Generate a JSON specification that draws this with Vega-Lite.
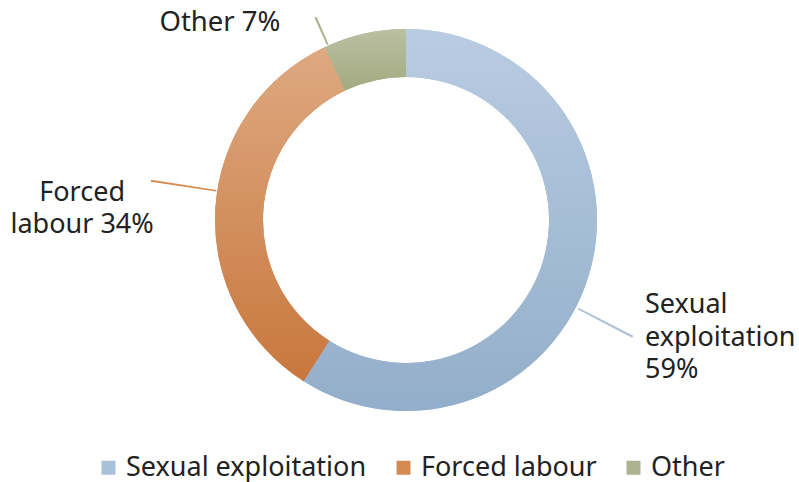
{
  "$schema": "https://vega.github.io/schema/vega-lite/v6.json",
  "width": 786,
  "height": 440,
  "autosize": {"type": "none"},
  "padding": {"left": 13, "right": 0, "top": 0, "bottom": 42},
  "background": "white",
  "config": {"view": {"stroke": null}, "font": "Noto Sans"},
  "data": {
    "values": [
      {"category": "Sexual exploitation", "value": 59, "label": "Sexual\nexploitation\n59%"},
      {"category": "Forced labour", "value": 34, "label": "Forced\nlabour 34%"},
      {"category": "Other", "value": 7, "label": "Other 7%"}
    ]
  },
  "transform": [
    {"stack": "value", "groupby": [], "sort": [{"field": "value", "order": "descending"}], "as": ["v0", "v1"]}
  ],
  "layer": [
    {
      "mark": {"type": "arc", "radius": 191, "radius2": 143},
      "encoding": {
        "theta": {"field": "v0", "type": "quantitative", "stack": null, "scale": {"domain": [0, 100]}},
        "theta2": {"field": "v1"},
        "color": {
          "field": "category",
          "type": "nominal",
          "scale": {"domain": ["Sexual exploitation", "Forced labour", "Other"], "range": ["#a9c0da", "#d58a52", "#adb38e"]},
          "legend": {
            "title": null,
            "orient": "none",
            "legendX": 82,
            "legendY": 454,
            "padding": 0,
            "direction": "horizontal",
            "symbolType": "square",
            "symbolSize": 196,
            "symbolStrokeWidth": 0,
            "labelFontSize": 27,
            "labelColor": "#222222",
            "labelFont": "Noto Sans",
            "labelLimit": 400,
            "columnPadding": 23,
            "labelOffset": 4
          }
        }
      }
    },
    {
      "transform": [{"filter": "datum.category === 'Sexual exploitation'"}],
      "mark": {"type": "arc", "radius": 191, "radius2": 143,
        "fill": {"gradient": "linear", "x1": 0, "y1": 0, "x2": 0, "y2": 1, "stops": [{"offset": 0, "color": "#b9cce2"}, {"offset": 1, "color": "#93aeca"}]}},
      "encoding": {
        "theta": {"field": "v0", "type": "quantitative", "stack": null},
        "theta2": {"field": "v1"}
      }
    },
    {
      "transform": [{"filter": "datum.category === 'Forced labour'"}],
      "mark": {"type": "arc", "radius": 191, "radius2": 143,
        "fill": {"gradient": "linear", "x1": 0, "y1": 0, "x2": 0, "y2": 1, "stops": [{"offset": 0, "color": "#dea981"}, {"offset": 1, "color": "#c8773d"}]}},
      "encoding": {
        "theta": {"field": "v0", "type": "quantitative", "stack": null},
        "theta2": {"field": "v1"}
      }
    },
    {
      "transform": [{"filter": "datum.category === 'Other'"}],
      "mark": {"type": "arc", "radius": 191, "radius2": 143,
        "fill": {"gradient": "linear", "x1": 0, "y1": 0, "x2": 0, "y2": 1, "stops": [{"offset": 0, "color": "#bbbfa3"}, {"offset": 1, "color": "#a3aa80"}]}},
      "encoding": {
        "theta": {"field": "v0", "type": "quantitative", "stack": null},
        "theta2": {"field": "v1"}
      }
    },
    {
      "transform": [{"filter": "datum.category === 'Sexual exploitation'"}],
      "mark": {"type": "arc", "radius": 255, "radius2": 194, "thetaOffset": 2.042, "theta2Offset": 2.051, "fill": "#a9c0da"},
      "encoding": {
        "theta": {"field": "v0", "type": "quantitative", "stack": null},
        "theta2": {"field": "v0"}
      }
    },
    {
      "transform": [{"filter": "datum.category === 'Forced labour'"}],
      "mark": {"type": "arc", "radius": 258, "radius2": 192, "thetaOffset": 1.154, "theta2Offset": 1.162, "fill": "#d58a52"},
      "encoding": {
        "theta": {"field": "v0", "type": "quantitative", "stack": null},
        "theta2": {"field": "v0"}
      }
    },
    {
      "transform": [{"filter": "datum.category === 'Other'"}],
      "mark": {"type": "arc", "radius": 222, "radius2": 192, "thetaOffset": 0.015, "theta2Offset": 0.025, "fill": "#adb38e"},
      "encoding": {
        "theta": {"field": "v0", "type": "quantitative", "stack": null},
        "theta2": {"field": "v0"}
      }
    },
    {
      "transform": [{"filter": "datum.category === 'Sexual exploitation'"}],
      "mark": {"type": "text", "radius": 253.7, "thetaOffset": 1.913, "align": "left", "baseline": "middle", "fontSize": 27, "lineHeight": 32.5, "lineBreak": "\n", "color": "#222222"},
      "encoding": {
        "theta": {"field": "v0", "type": "quantitative", "stack": null},
        "text": {"field": "label"}
      }
    },
    {
      "transform": [{"filter": "datum.category === 'Forced labour'"}],
      "mark": {"type": "text", "radius": 325, "thetaOffset": 1.0885, "align": "center", "baseline": "middle", "fontSize": 27, "lineHeight": 32, "lineBreak": "\n", "color": "#222222"},
      "encoding": {
        "theta": {"field": "v0", "type": "quantitative", "stack": null},
        "text": {"field": "label"}
      }
    },
    {
      "transform": [{"filter": "datum.category === 'Other'"}],
      "mark": {"type": "text", "radius": 271, "thetaOffset": -0.317, "align": "center", "baseline": "middle", "fontSize": 27.5, "color": "#222222"},
      "encoding": {
        "theta": {"field": "v0", "type": "quantitative", "stack": null},
        "text": {"field": "label"}
      }
    }
  ]
}
